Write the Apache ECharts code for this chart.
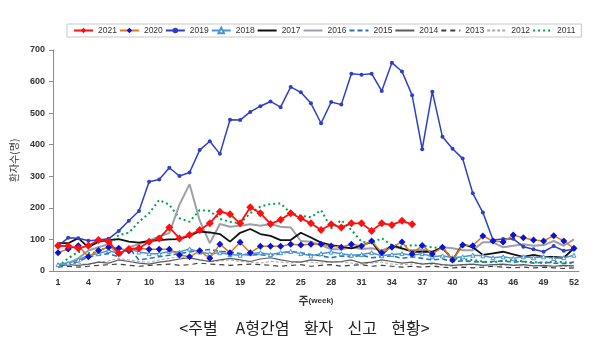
<!DOCTYPE html>
<html>
<head>
<meta charset="utf-8">
<script src="https://cdn.jsdelivr.net/npm/echarts@6/dist/echarts.min.js"></script>
<style>
  html, body { margin: 0; padding: 0; background: #fff; }
  #chart { width: 609px; height: 340px; }
</style>
</head>
<body>
<div id="chart"></div>
<script>
// Weekly hepatitis A patient reports, weeks 1-52, one array per year
const weeks = Array.from({ length: 52 }, (_, i) => String(i + 1));

const y2021 = [80,79,72,80,98,93,56,70,72,93,103,138,103,114,130,151,188,180,151,202,183,149,162,183,167,151,130,148,138,151,151,127,151,146,159,148];
const y2020 = [58,70,80,45,65,75,72,64,72,69,69,69,51,45,64,40,85,58,91,58,78,78,78,85,82,85,85,79,75,85,79,95,58,75,92,54,81,54,75,35,82,80,111,95,92,114,105,98,95,112,95,72];
const y2019 = [80,105,104,96,98,102,127,159,190,283,290,327,301,312,383,411,371,479,478,504,522,537,519,583,566,531,468,535,527,625,622,625,570,660,632,557,386,568,425,387,356,246,185,98,101,102,77,69,61,79,64,69];
const y2018 = [20,25,35,50,55,65,55,70,60,55,55,62,60,70,60,55,58,52,50,55,58,52,58,62,55,48,55,60,55,50,52,58,48,52,55,50,55,45,48,42,45,50,48,42,45,40,45,42,45,40,42,50];
const y2017 = [88,88,104,75,93,98,101,93,90,95,98,100,101,112,125,122,117,93,121,133,117,111,98,98,121,106,90,82,77,72,80,93,51,82,72,61,61,61,75,35,85,75,51,56,61,53,45,51,45,45,42,72];
const y2016 = [20,25,40,65,75,85,50,75,85,95,110,120,210,275,160,88,149,140,143,148,143,149,140,138,95,93,82,69,69,75,70,72,65,78,70,66,68,60,75,72,66,66,91,91,75,80,85,80,82,95,80,100];
const y2015 = [16,20,30,45,50,55,45,75,35,40,45,50,55,60,65,68,62,60,55,50,52,48,55,62,58,52,48,42,48,45,50,42,45,48,40,45,40,35,38,30,32,30,28,30,32,28,30,25,28,25,24,28];
const y2014 = [15,20,18,22,28,25,35,30,25,22,28,32,38,42,35,30,35,40,35,30,38,42,35,30,28,35,32,28,30,35,25,28,35,30,25,28,22,25,20,18,20,22,18,20,22,18,20,16,18,15,18,16];
const y2013 = [12,15,12,15,18,20,22,18,15,18,20,22,18,20,25,22,20,18,20,22,20,18,15,18,20,15,18,20,15,18,20,15,18,15,12,15,12,15,12,10,12,10,12,15,12,10,12,10,12,10,8,10];
const y2012 = [20,22,25,20,28,32,40,35,30,28,35,40,45,40,35,30,32,35,30,28,25,30,28,25,30,28,25,30,28,25,22,25,28,22,20,22,25,20,18,15,18,20,18,15,18,20,15,18,15,12,15,12];
const y2011 = [14,40,61,56,60,80,114,121,156,183,225,210,167,156,193,190,165,156,151,183,204,212,214,183,175,170,193,135,161,130,93,88,104,82,77,82,80,75,72,40,37,35,30,28,32,35,30,28,25,30,28,24];

const yearNames = ['2021','2020','2019','2018','2017','2016','2015','2014','2013','2012','2011'];
// Years drawn as plain lines (no point markers)
const plainYears = ['2017','2016','2015','2014','2013','2012','2011'];

function line(name, data, color, opts) {
  opts = opts || {};
  const hasMarker = !!opts.symbol;
  return {
    name: name,
    type: 'line',
    data: data,
    symbol: hasMarker ? opts.symbol : 'none',
    symbolSize: hasMarker ? opts.symbolSize : 0,
    showSymbol: hasMarker,
    showAllSymbol: true,
    itemStyle: {
      color: opts.markerColor || color,
      borderColor: opts.markerBorder || opts.markerColor || color,
      borderWidth: opts.markerBorderWidth || 0
    },
    lineStyle: { color: color, width: opts.width || 1.5, type: opts.dash || 'solid' },
    animation: false
  };
}

// Older years first so the recent years sit on top
const series = [
  line('2011', y2011, '#00a050', { dash: [2, 3], width: 2 }),
  line('2012', y2012, '#a8a8a8', { dash: [3, 2], width: 1 }),
  line('2013', y2013, '#404040', { dash: [5, 4], width: 1.2 }),
  line('2014', y2014, '#5a5a5a', { width: 1.2 }),
  line('2015', y2015, '#2673b8', { dash: [5, 3], width: 1.6 }),
  line('2016', y2016, '#9da0a8', { width: 2 }),
  line('2017', y2017, '#111111', { width: 1.8 }),
  line('2018', y2018, '#4a96d2', { symbol: 'triangle', symbolSize: 4, markerColor: '#ffffff', markerBorder: '#4a96d2', markerBorderWidth: 1, width: 1.5 }),
  line('2019', y2019, '#2f3fc4', { symbol: 'circle', symbolSize: 4, markerColor: '#2f3fc4', width: 1.5 }),
  line('2020', y2020, '#e0781e', { symbol: 'diamond', symbolSize: 7, markerColor: '#0a14d8', width: 1.5 }),
  line('2021', y2021, '#ff1010', { symbol: 'diamond', symbolSize: 8, markerColor: '#ff1010', width: 1.8 })
];

const legendData = yearNames.map(n =>
  plainYears.indexOf(n) >= 0 ? { name: n, itemStyle: { opacity: 0 } } : { name: n }
);

const chart = echarts.init(document.getElementById('chart'), null, { renderer: 'canvas' });
chart.setOption({
  backgroundColor: '#ffffff',
  animation: false,
  textStyle: { fontFamily: 'Liberation Sans, Arial, sans-serif' },
  title: {
    text: '<주별     A형간염    환자    신고    현황>',
    left: 'center',
    top: 315,
    textStyle: { fontFamily: 'Noto Sans CJK KR', fontSize: 16, fontWeight: 'normal', color: '#222' }
  },
  legend: {
    data: legendData,
    left: 67,
    top: 24,
    padding: [2, 6, 2, 6],
    itemGap: 2,
    itemWidth: 19,
    itemHeight: 7,
    borderColor: '#c8c8c8',
    borderWidth: 1,
    textStyle: { fontSize: 8.5, color: '#333', fontFamily: 'Liberation Sans, Arial, sans-serif' }
  },
  grid: { left: 53, right: 30, top: 50, bottom: 69, containLabel: false },
  xAxis: {
    type: 'category',
    data: weeks,
    boundaryGap: true,
    name: '{a|주}{b|(week)}',
    nameLocation: 'middle',
    nameGap: 24,
    nameTextStyle: {
      rich: {
        a: { fontSize: 11, fontWeight: 'bold', color: '#333', fontFamily: 'Noto Sans CJK KR' },
        b: { fontSize: 8, fontWeight: 'bold', color: '#333' }
      }
    },
    axisLine: { lineStyle: { color: '#8c8c8c', width: 1 } },
    axisTick: { interval: 2, length: 4, lineStyle: { color: '#8c8c8c' } },
    axisLabel: { interval: 2, fontSize: 9, fontWeight: 'bold', color: '#333', margin: 7 },
    splitLine: { show: false }
  },
  yAxis: {
    type: 'value',
    min: 0,
    max: 700,
    interval: 100,
    name: '환자수(명)',
    nameLocation: 'middle',
    nameRotate: 90,
    nameGap: 27,
    nameTextStyle: { fontSize: 10, color: '#333', fontFamily: 'Noto Sans CJK KR' },
    axisLine: { show: true, lineStyle: { color: '#8c8c8c', width: 1 } },
    axisTick: { show: true, length: 4, lineStyle: { color: '#8c8c8c' } },
    axisLabel: { fontSize: 9, fontWeight: 'bold', color: '#333', margin: 8 },
    splitLine: { show: false }
  },
  series: series
});
</script>
</body>
</html>
